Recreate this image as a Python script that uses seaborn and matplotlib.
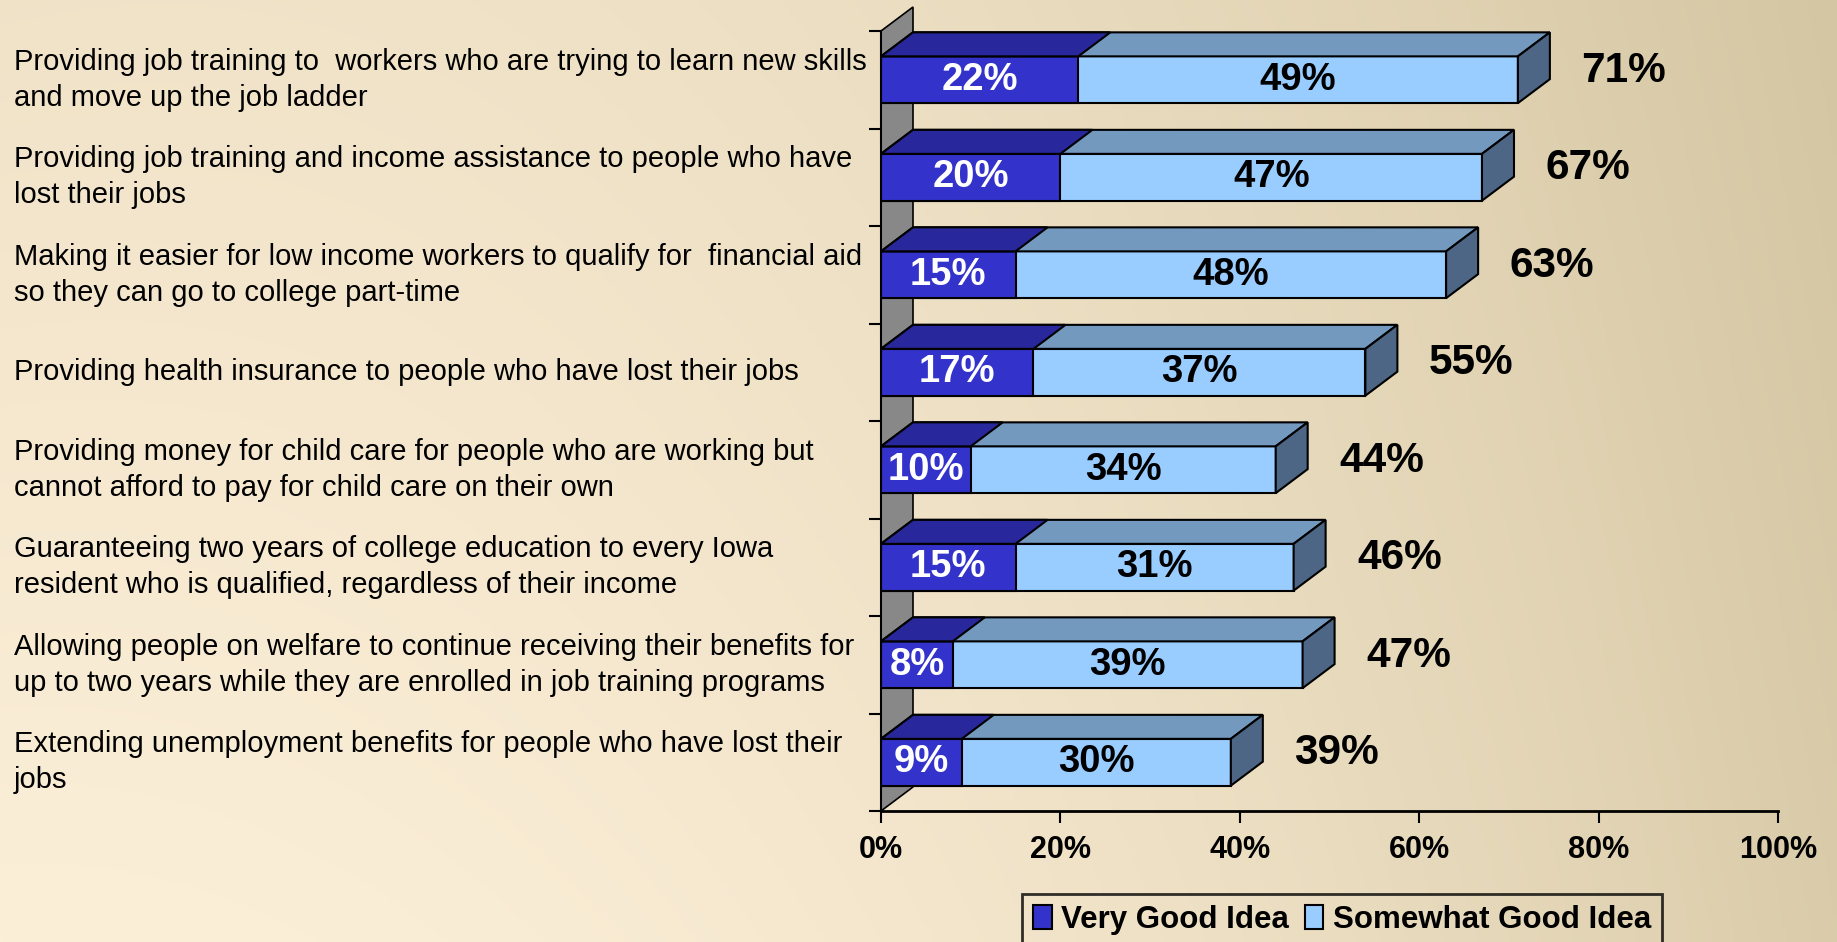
import numpy as np
import pandas as pd
import seaborn as sns
import matplotlib.pyplot as plt
from matplotlib.patches import Polygon, Patch

items = [
    "Providing job training to  workers who are trying to learn new skills\nand move up the job ladder",
    "Providing job training and income assistance to people who have\nlost their jobs",
    "Making it easier for low income workers to qualify for  financial aid\nso they can go to college part-time",
    "Providing health insurance to people who have lost their jobs",
    "Providing money for child care for people who are working but\ncannot afford to pay for child care on their own",
    "Guaranteeing two years of college education to every Iowa\nresident who is qualified, regardless of their income",
    "Allowing people on welfare to continue receiving their benefits for\nup to two years while they are enrolled in job training programs",
    "Extending unemployment benefits for people who have lost their\njobs",
]
very_good = [22, 20, 15, 17, 10, 15, 8, 9]
somewhat_good = [49, 47, 48, 37, 34, 31, 39, 30]
totals = [71, 67, 63, 55, 44, 46, 47, 39]
x_ticks = [0, 20, 40, 60, 80, 100]
legend_labels = ["Very Good Idea", "Somewhat Good Idea"]

dark_front, dark_top = "#3333CC", "#28289C"
light_front, light_top, light_side = "#99CCFF", "#7399BF", "#4D6685"
wall_color = "#888888"

plt.rcParams["font.family"] = ["Liberation Sans", "DejaVu Sans"]

df = pd.DataFrame({"item": items, "very": very_good, "somewhat": somewhat_good})
df["stack"] = df["very"] + df["somewhat"]

W, H = 1837, 942
fig = plt.figure(figsize=(W / 100, H / 100), dpi=100)

# background gradient
bg = fig.add_axes([0, 0, 1, 1], zorder=-5)
gx, gy = np.meshgrid(np.linspace(0, 1, 500), np.linspace(0, 1, 250))
t = np.clip(0.85 * gx ** 2 + 0.3 * gy * (1 - 0.5 * gx), 0, 1)
c0 = np.array([252, 239, 216]) / 255
c1 = np.array([212, 198, 162]) / 255
bg.imshow(c0 + (c1 - c0) * t[..., None], aspect="auto", extent=[0, 1, 0, 1], origin="lower")
bg.axis("off")

ax = fig.add_axes([881 / W, 131 / H, 897 / W, 780 / H])
ax.patch.set_visible(False)

sns.barplot(data=df, x="stack", y="item", color=light_front, saturation=1, width=0.48,
            edgecolor="black", linewidth=1.5, errorbar=None, ax=ax)
sns.barplot(data=df, x="very", y="item", color=dark_front, saturation=1, width=0.48,
            edgecolor="black", linewidth=1.5, errorbar=None, ax=ax)

ax.set_xlim(0, 100)
ax.set_ylim(len(items) - 0.5, -0.5)

# 3d depth in data units
inv = ax.transData.inverted()
p0 = inv.transform((0, 0))
p1 = inv.transform((32, 24))
ddx, ddy = p1[0] - p0[0], p1[1] - p0[1]

n = len(items)
wall = Polygon([(0, n - 0.5), (0, -0.5), (ddx, -0.5 + ddy), (ddx, n - 0.5 + ddy)],
               closed=True, facecolor=wall_color, edgecolor="black", lw=1.2,
               zorder=0.5, clip_on=False)
ax.add_patch(wall)

light_bars = ax.patches[:n]
dark_bars = ax.patches[n:2 * n]
for bars, top_c, side_c, z in [(light_bars, light_top, light_side, 1.5), (dark_bars, dark_top, None, 1.6)]:
    for p in bars:
        x0, x1 = p.get_x(), p.get_x() + p.get_width()
        yt, yb = p.get_y(), p.get_y() + p.get_height()
        ax.add_patch(Polygon([(x0, yt), (x1, yt), (x1 + ddx, yt + ddy), (x0 + ddx, yt + ddy)],
                             closed=True, facecolor=top_c, edgecolor="black", lw=1.5,
                             zorder=z, clip_on=False))
        if side_c:
            ax.add_patch(Polygon([(x1, yt), (x1, yb), (x1 + ddx, yb + ddy), (x1 + ddx, yt + ddy)],
                                 closed=True, facecolor=side_c, edgecolor="black", lw=1.5,
                                 zorder=z, clip_on=False))

for i in range(n):
    v, s, st = very_good[i], somewhat_good[i], df["stack"][i]
    ax.text(v / 2, i, f"{v}%", ha="center", va="center", color="white",
            fontsize=27.5, fontweight="bold", zorder=3)
    ax.text(v + s / 2, i, f"{s}%", ha="center", va="center", color="black",
            fontsize=27.5, fontweight="bold", zorder=3)
    ax.text(st + 7.1, i - 0.09, f"{totals[i]}%", ha="left", va="center", color="black",
            fontsize=30.5, fontweight="bold", zorder=3)

ax.set_xlabel("")
ax.set_ylabel("")
ax.set_yticks(range(n))
ax.set_yticklabels(items, ha="left", va="center", fontsize=21, linespacing=1.35)
ax.tick_params(axis="y", which="major", length=0, pad=(881 - 14) * 0.72)
ax.set_yticks(np.arange(-0.5, n, 1), minor=True)
ax.tick_params(axis="y", which="minor", length=8.6, width=1.5, direction="out")

ax.set_xticks(x_ticks)
ax.set_xticklabels([f"{v}%" for v in x_ticks], fontsize=22, fontweight="bold")
ax.tick_params(axis="x", length=8.6, width=1.5, direction="out", pad=9)

for side in ["top", "right"]:
    ax.spines[side].set_visible(False)
ax.spines["bottom"].set_linewidth(2)
ax.spines["left"].set_linewidth(1.5)

handles = [Patch(facecolor=dark_front, edgecolor="black", lw=1.5, label=legend_labels[0]),
           Patch(facecolor=light_front, edgecolor="black", lw=1.5, label=legend_labels[1])]
leg = fig.legend(handles=handles, loc="center", bbox_to_anchor=(1342 / W, 1 - 920 / H), ncol=2,
                 frameon=True, fancybox=False, edgecolor="black", facecolor="none",
                 prop={"weight": "bold", "size": 22.5}, handlelength=0.6, handleheight=0.8,
                 handletextpad=0.3, columnspacing=0.5, borderpad=0.35)
leg.get_frame().set_linewidth(2)

fig.savefig("out.png", dpi=100)
